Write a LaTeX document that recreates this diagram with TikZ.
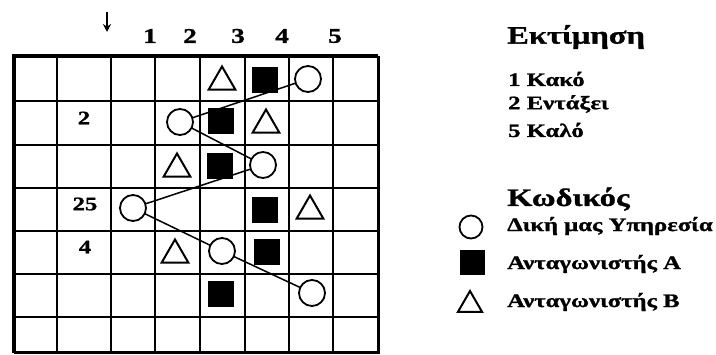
\documentclass[tikz,border=0pt]{standalone}
\usepackage{fontspec}
\setmainfont[FakeStretch=1.3,FakeBold=1.2]{Liberation Serif}
\usetikzlibrary{shapes.geometric,arrows.meta}
\tikzset{
  gridline/.style={line width=1.8pt},
  borderline/.style={line width=4pt},
  ours/.style={circle,draw,line width=1.8pt,minimum size=26pt,inner sep=0pt,fill=white},
  compa/.style={rectangle,fill=black,minimum size=26pt,inner sep=0pt},
  compb/.style={regular polygon,regular polygon sides=3,draw,line width=2pt,minimum size=31pt,inner sep=0pt},
  link/.style={line width=1.5pt},
  numlab/.style={font=\bfseries\fontsize{21}{21}\selectfont,inner sep=0pt},
  rowlab/.style={font=\bfseries\fontsize{19}{19}\selectfont,inner sep=0pt},
  title/.style={font=\bfseries\fontsize{25}{25}\selectfont,anchor=west,inner sep=0pt},
  item/.style={font=\bfseries\fontsize{19}{19}\selectfont,anchor=west,inner sep=0pt},
}
\begin{document}
\begin{tikzpicture}[x=1pt,y=-1pt]
\useasboundingbox (0,0) rectangle (716,355);
% grid
\foreach \x in {57,111,155,200,245,289,333}
  \draw[gridline] (\x,56) -- (\x,353);
\foreach \y in {101,145,188,231,274,317}
  \draw[gridline] (14,\y) -- (378,\y);
\draw[borderline] (14,353) -- (14,56) -- (378,56);
\draw[line width=3pt] (378,56) -- (378,353) -- (14,353);
% column labels
\node[numlab] (c1) at (150,36) {1};
\node[numlab] (c2) at (190,36) {2};
\node[numlab] (c3) at (238,36) {3};
\node[numlab] (c4) at (282,36) {4};
\node[numlab] (c5) at (335,36) {5};
\coordinate (arT) at (107,12);
\coordinate (arB) at (107,32);
\draw[line width=1.5pt,-{Stealth[length=8pt,width=8pt]}] (arT) -- (arB);
% row labels
\node[rowlab] (r2) at (84,118) {2};
\node[rowlab] (r25) at (85,204) {25};
\node[rowlab] (r4) at (85,247) {4};
% row 1
\node[compb] (b1) at (222,82) {};
\node[compa] (a1) at (265,80) {};
% row 2
\node[compa] (a2) at (221,121) {};
\node[compb] (b2) at (266,125) {};
% row 3
\node[compb] (b3) at (177,169) {};
\node[compa] (a3) at (220,166) {};
% row 4
\node[compa] (a4) at (265,210) {};
\node[compb] (b4) at (310,211) {};
% row 5
\node[compb] (b5) at (175,255) {};
\node[compa] (a5) at (267,252) {};
% row 6
\node[compa] (a6) at (221,294) {};
% links
\coordinate (p1) at (308,79);
\coordinate (p2) at (180,122);
\coordinate (p3) at (263,165);
\coordinate (p4) at (133,208);
\coordinate (p5) at (222,251);
\coordinate (p6) at (312,293);
\draw[link] (p1) -- (p2) -- (p3) -- (p4) -- (p5) -- (p6);
\node[ours] (o1) at (p1) {};
\node[ours] (o2) at (p2) {};
\node[ours] (o3) at (p3) {};
\node[ours] (o4) at (p4) {};
\node[ours] (o5) at (p5) {};
\node[ours] (o6) at (p6) {};
% legend
\node[title] (t1) at (507,37) {Εκτίμηση};
\node[item] (l1) at (508,79) {1 Κακό};
\node[item] (l2) at (508,104) {2 Εντάξει};
\node[item] (l3) at (508,130) {5 Καλό};
\node[title] (t2) at (507,199) {Κωδικός};
\node[ours,minimum size=23pt] (k1) at (471,227) {};
\node[compa,minimum size=25pt] (k2) at (472,263) {};
\node[compb,minimum size=28pt] (k3) at (470,305) {};
\node[item] (i1) at (507,226) {Δική μας Υπηρεσία};
\node[item] (i2) at (507,264) {Ανταγωνιστής Α};
\node[item] (i3) at (507,302) {Ανταγωνιστής Β};
\end{tikzpicture}
\end{document}
